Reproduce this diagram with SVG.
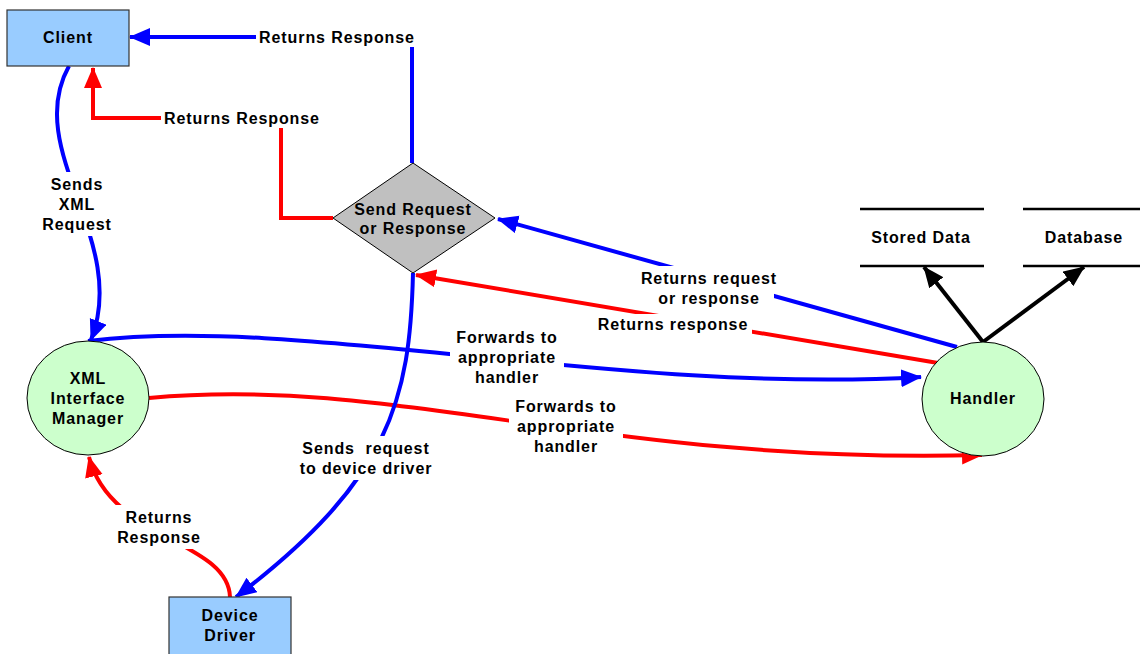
<svg xmlns="http://www.w3.org/2000/svg" width="1140" height="654" viewBox="0 0 1140 654">
<style>
text{font-family:"Liberation Sans",Arial,sans-serif;font-weight:bold;font-size:16px;letter-spacing:0.9px;fill:#000;text-anchor:middle;white-space:pre}
.box{fill:#99ccff;stroke:#333;stroke-width:1.2}
.proc{fill:#ccffcc;stroke:#000;stroke-width:1}
.b{fill:none;stroke:#0000ff;stroke-width:4}
.r{fill:none;stroke:#ff0000;stroke-width:4}
.k{fill:none;stroke:#000;stroke-width:4}
.bg{fill:#fff}
.store{stroke:#000;stroke-width:2.5}
</style>
<defs>
<marker id="ab" markerUnits="userSpaceOnUse" markerWidth="24" markerHeight="20" refX="20" refY="9" orient="auto"><path d="M0,0 L21,9 L0,18 z" fill="#0000ff"/></marker>
<marker id="ar" markerUnits="userSpaceOnUse" markerWidth="24" markerHeight="20" refX="20" refY="9" orient="auto"><path d="M0,0 L21,9 L0,18 z" fill="#ff0000"/></marker>
<marker id="ak" markerUnits="userSpaceOnUse" markerWidth="24" markerHeight="20" refX="20" refY="9" orient="auto"><path d="M0,0 L21,9 L0,18 z" fill="#000"/></marker>
</defs>

<g id="connectors">
<path class="b" d="M412,163 L412,37 L130,37" marker-end="url(#ab)"/>
<path class="r" d="M333,218 L281,218 L281,118 L93,118 L93,68" marker-end="url(#ar)"/>
<path class="b" d="M69,66 C22,150 130,240 91,340" marker-end="url(#ab)"/>
<path class="b" d="M957,347 L498,219" marker-end="url(#ab)"/>
<path class="r" d="M938,363 L416,275" marker-end="url(#ar)"/>
<path class="b" d="M88,341 C300,315 620,395 921,377" marker-end="url(#ab)"/>
<path class="r" d="M149,398 C400,375 600,465 982,455" marker-end="url(#ar)"/>
<path class="b" d="M413,273 C410,400 390,480 236,597" marker-end="url(#ab)"/>
<path class="r" d="M230,597 C228,540 110,540 89,457" marker-end="url(#ar)"/>
<path class="k" d="M983,342 L924,267" marker-end="url(#ak)"/>
<path class="k" d="M983,342 L1084,267" marker-end="url(#ak)"/>
<g id="labels">
<rect class="bg" x="256" y="27" width="162" height="20"/>
<text x="337" y="43">Returns Response</text>
<rect class="bg" x="161" y="108" width="162" height="20"/>
<text x="242" y="124">Returns Response</text>
<rect class="bg" x="38" y="172" width="78" height="64"/>
<text x="77" y="190">Sends</text>
<text x="77" y="210">XML</text>
<text x="77" y="230">Request</text>
<rect class="bg" x="646" y="266" width="128" height="44"/>
<text x="709" y="284">Returns request</text>
<text x="709" y="304">or response</text>
<rect class="bg" x="594" y="314" width="158" height="20"/>
<text x="673" y="330">Returns response</text>
<rect class="bg" x="450" y="325" width="114" height="64"/>
<text x="507" y="343">Forwards to</text>
<text x="507" y="363">appropriate</text>
<text x="507" y="383">handler</text>
<rect class="bg" x="509" y="394" width="114" height="64"/>
<text x="566" y="412">Forwards to</text>
<text x="566" y="432">appropriate</text>
<text x="566" y="452">handler</text>
<rect class="bg" x="295" y="436" width="142" height="44"/>
<text x="366" y="454">Sends  request</text>
<text x="366" y="474">to device driver</text>
<rect class="bg" x="112" y="505" width="94" height="44"/>
<text x="159" y="523">Returns</text>
<text x="159" y="543">Response</text>
</g>
</g>

<g id="client">
<rect class="box" x="7" y="10" width="122" height="56"/>
<text x="68" y="43">Client</text>
</g>
<g id="decision">
<polygon points="413,163 495,218 413,273 333,218" fill="#c0c0c0" stroke="#000" stroke-width="1"/>
<text x="413" y="215">Send Request</text>
<text x="413" y="234">or Response</text>
</g>
<g id="xml-interface-manager">
<ellipse class="proc" cx="88" cy="398" rx="61" ry="57"/>
<text x="88" y="384">XML</text>
<text x="88" y="404">Interface</text>
<text x="88" y="424">Manager</text>
</g>
<g id="handler">
<ellipse class="proc" cx="983" cy="399" rx="61" ry="57"/>
<text x="983" y="404">Handler</text>
</g>
<g id="stored-data">
<line class="store" x1="860" y1="209" x2="984" y2="209"/>
<line class="store" x1="860" y1="266" x2="984" y2="266"/>
<text x="921" y="243">Stored Data</text>
</g>
<g id="database">
<line class="store" x1="1023" y1="209" x2="1140" y2="209"/>
<line class="store" x1="1023" y1="266" x2="1140" y2="266"/>
<text x="1084" y="243">Database</text>
</g>
<g id="device-driver">
<rect class="box" x="169" y="597" width="122" height="60"/>
<text x="230" y="621">Device</text>
<text x="230" y="641">Driver</text>
</g>
</svg>
